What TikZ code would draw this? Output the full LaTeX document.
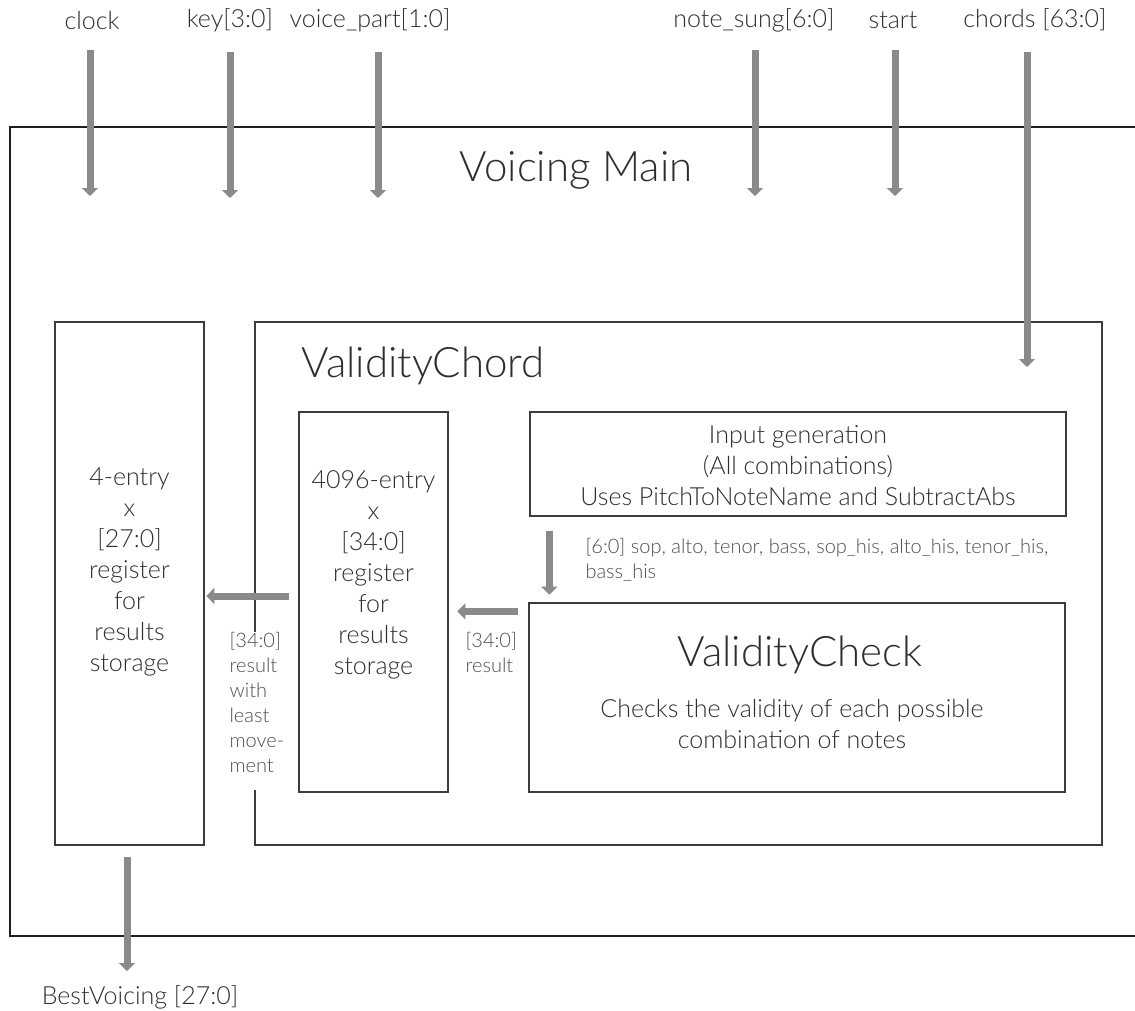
\documentclass[tikz,border=0pt]{standalone}
\usepackage{fontspec}
\setmainfont{Lato}[UprightFont={* Light}]
\usetikzlibrary{arrows.meta}
\definecolor{ink}{HTML}{2E2E2E}
\definecolor{soft}{HTML}{4E4E4E}
\definecolor{pipe}{HTML}{8A8A8A}
\definecolor{edge}{HTML}{3C3C3C}
\begin{document}
\begin{tikzpicture}[x=1pt,y=-1pt,
  box/.style={draw=edge,line width=1.3pt,inner sep=0pt},
  big/.style={font=\fontsize{42}{48}\selectfont,text=ink},
  body/.style={font=\fontsize{25}{31}\selectfont,text=ink,align=center},
  sig/.style={font=\fontsize{25}{28}\selectfont,text=ink},
  tag/.style={font=\fontsize{20}{25}\selectfont,text=soft,align=left},
  bus/.style={draw=pipe,line width=7pt,-{Triangle[width=16pt,length=8pt]}}]
\useasboundingbox (0,0) rectangle (1135,1010);

% outer module, open to the right
\draw[line width=2pt,black!88] (1135,127) -- (10,127) -- (10,936) -- (1135,936);
\node[big] (main) at (576,170) {Voicing Main};

% inner module outline, interrupted by the output label on its left side
\draw[draw=edge,line width=1.3pt] (255,632) -- (255,322) -- (1102,322) -- (1102,845) -- (255,845) -- (255,790);
\node[big,anchor=west] (chord) at (298,366) {ValidityChord};

% blocks
\node[box,minimum width=149pt,minimum height=523pt] (best) at (129.5,583.5) {};
\node[body] (bestt) at (129.5,572) {4-entry\\x\\{[27:0]}\\register\\for\\results\\storage};

\node[box,minimum width=149pt,minimum height=380pt] (all) at (373.5,602) {};
\node[body] (allt) at (373.5,575) {4096-entry\\x\\{[34:0]}\\register\\for\\results\\storage};

\node[box,minimum width=536pt,minimum height=104pt] (gen) at (798,464) {};
\node[body] (gent) at (798,466) {Input generation\\(All combinations)\\Uses PitchToNoteName and SubtractAbs};

\node[box,minimum width=536pt,minimum height=189pt] (check) at (797,697.5) {};
\node[big] (checkt) at (800,655) {ValidityCheck};
\node[body] (checks) at (792,724) {Checks the validity of each possible\\combination of notes};

% top-level ports
\node[sig] (clk) at (92,20) {clock};
\node[sig] (key) at (230,20) {key[3:0]};
\node[sig] (vp) at (370,20) {voice\_part[1:0]};
\node[sig] (ns) at (754,20) {note\_sung[6:0]};
\node[sig] (st) at (893,20) {start};
\node[sig] (ch) at (1035,20) {chords [63:0]};
\node[sig] (bv) at (140,997) {BestVoicing [27:0]};

\coordinate (clkA) at (90,50);   \coordinate (clkB) at (90,196);
\coordinate (keyA) at (230,52);  \coordinate (keyB) at (230,198);
\coordinate (vpA) at (378,52);   \coordinate (vpB) at (378,198);
\coordinate (nsA) at (755,50);   \coordinate (nsB) at (755,196);
\coordinate (stA) at (895,50);   \coordinate (stB) at (895,196);
\coordinate (chA) at (1027,52);  \coordinate (chB) at (1027,367);
\coordinate (bvA) at (127,857);  \coordinate (bvB) at (127,971);

\draw[bus] (clkA) -- (clkB);
\draw[bus] (keyA) -- (keyB);
\draw[bus] (vpA) -- (vpB);
\draw[bus] (nsA) -- (nsB);
\draw[bus] (stA) -- (stB);
\draw[bus] (chA) -- (chB);
\draw[bus] (bvA) -- (bvB);

% internal data paths
\draw[bus] (gen.south west) ++(20,14) coordinate (genOut) -- ++(0,64) coordinate (checkIn);
\draw[bus] (check.north west) ++(-10,9) coordinate (checkOut) -- ++(-61,0) coordinate (allIn);
\draw[bus] (all.west) ++(-9,-6) coordinate (allOut) -- ++(-83,0) coordinate (bestIn);

% path labels
\node[tag,anchor=north west] (genlab) at (582,535) {[6:0] sop, alto, tenor, bass, sop\_his, alto\_his, tenor\_his,\\bass\_his};
\node[tag,anchor=north west] (reslab) at (462,629) {[34:0]\\result};
\node[tag,anchor=north west] (bestlab) at (226,629) {[34:0]\\result\\with\\least\\move-\\ment};
\end{tikzpicture}
\end{document}
